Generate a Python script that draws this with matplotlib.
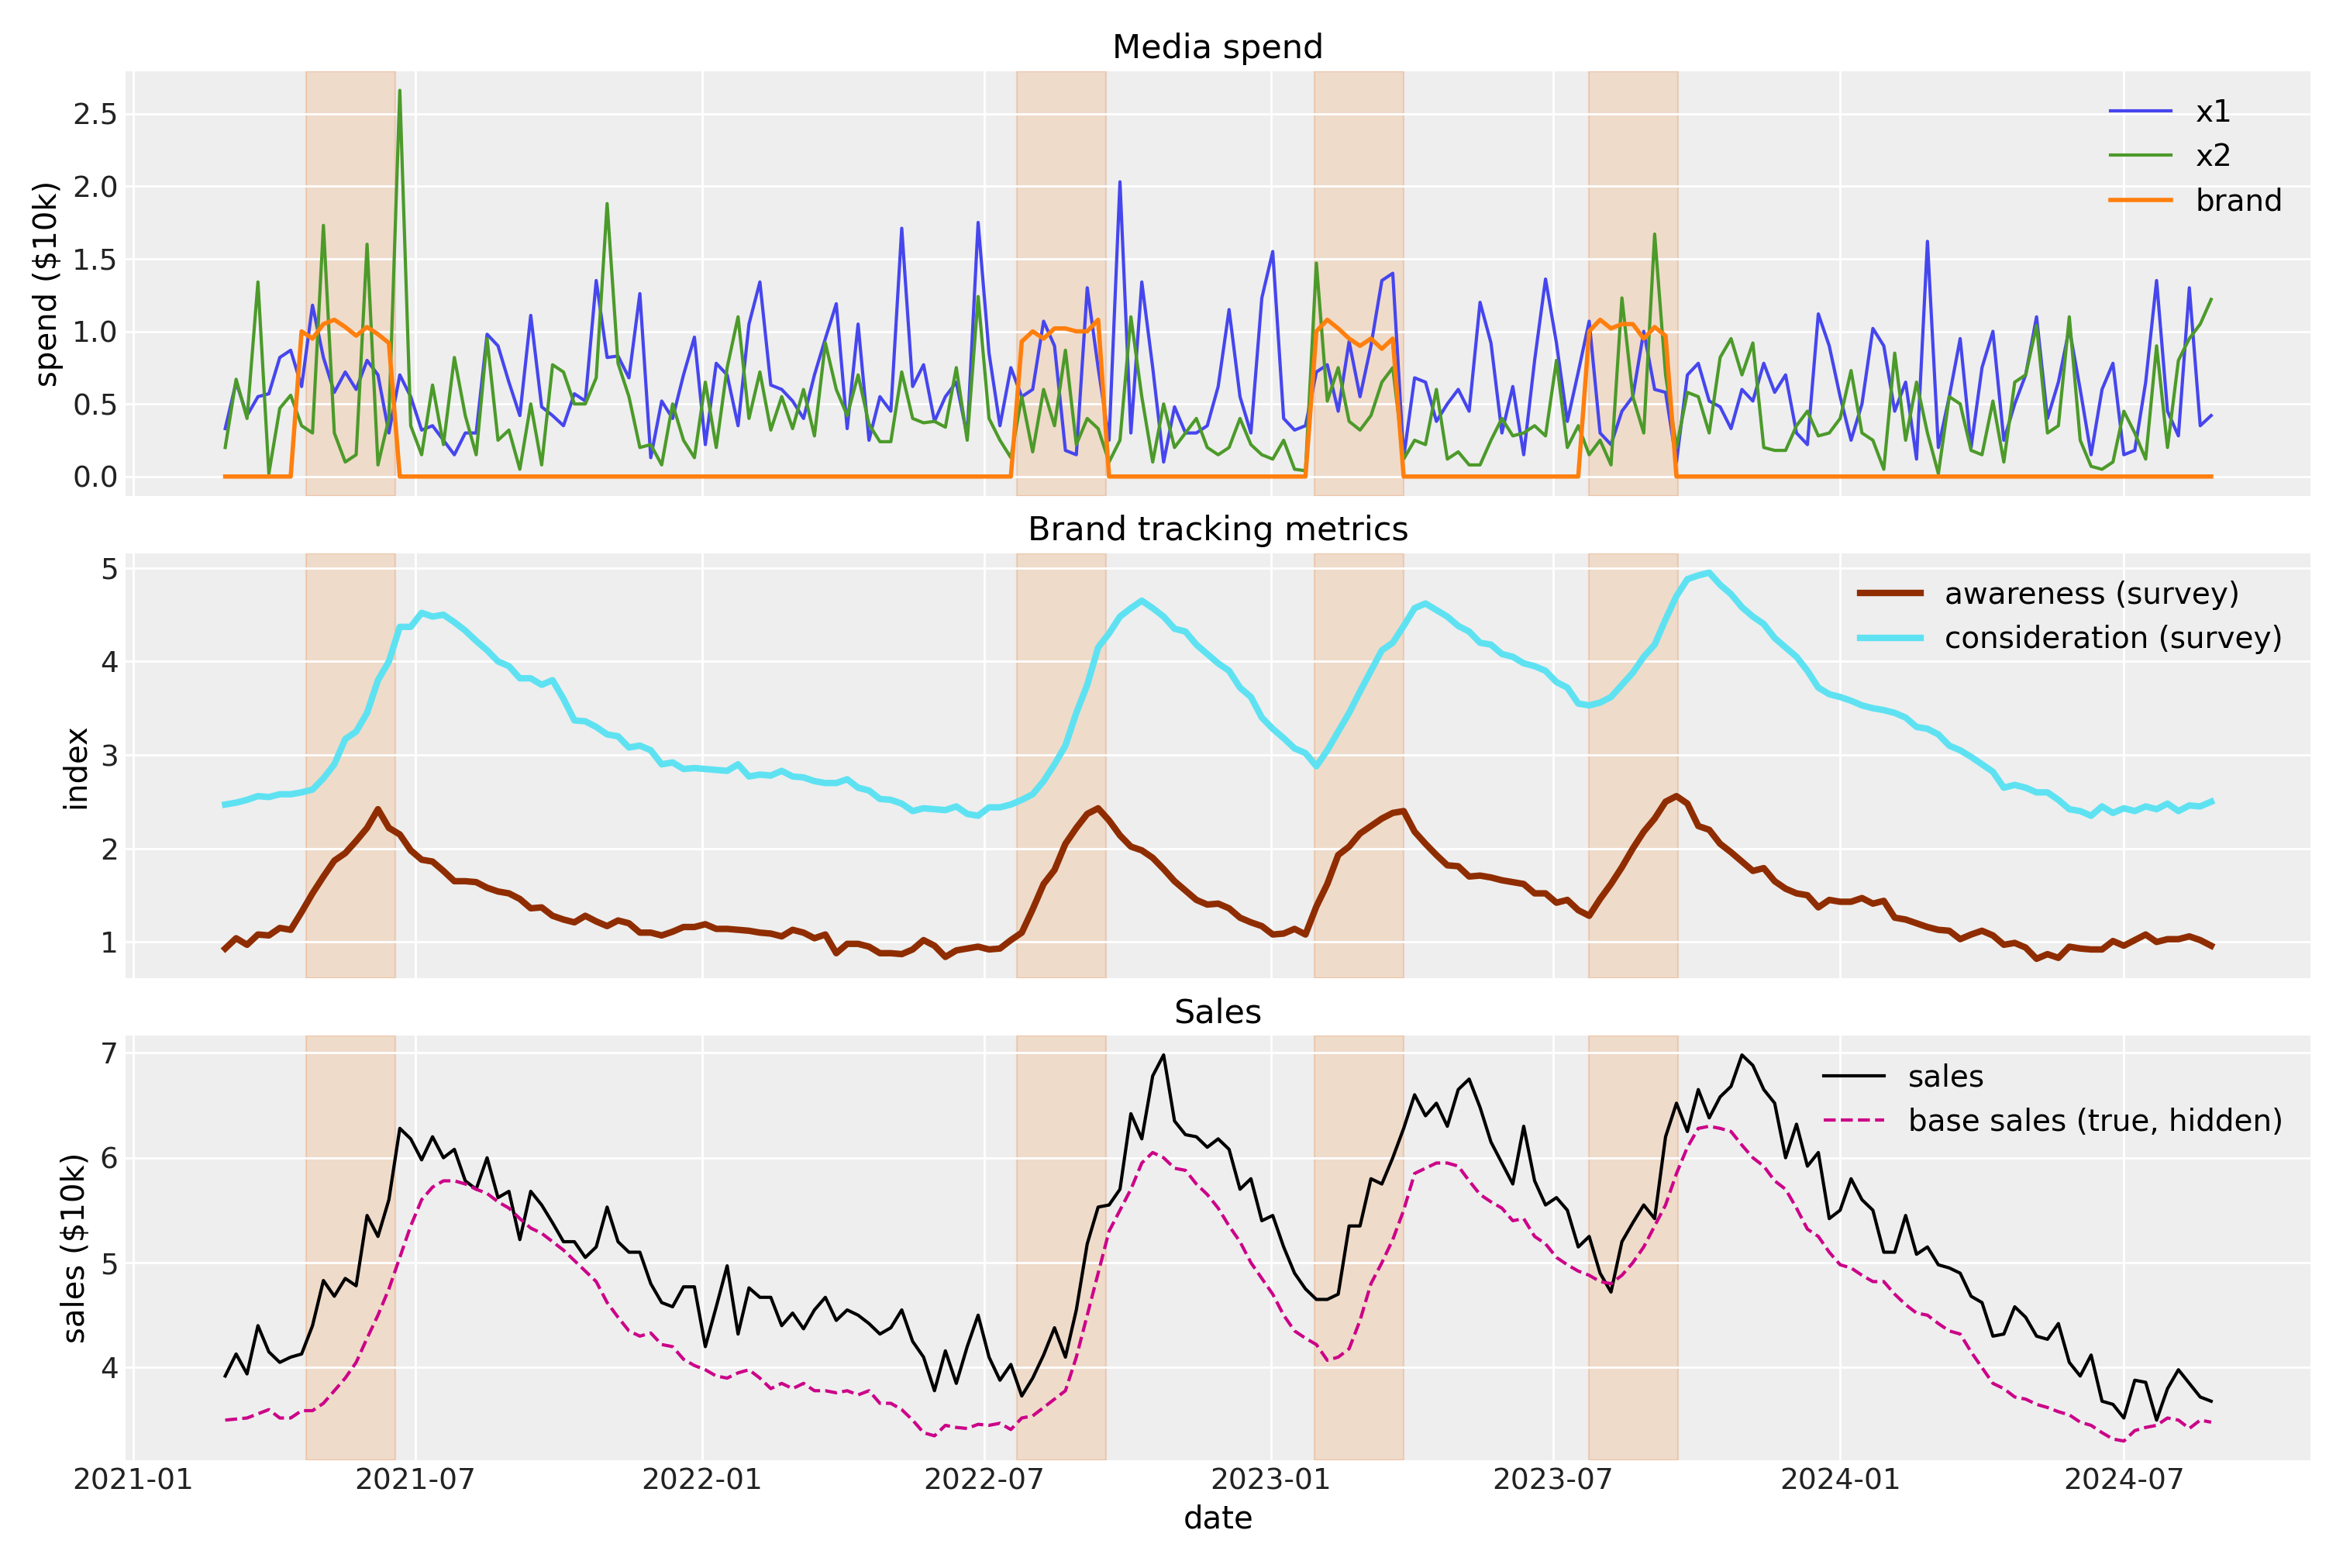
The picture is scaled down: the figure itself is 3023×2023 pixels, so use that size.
import matplotlib
matplotlib.use("Agg")
import matplotlib.pyplot as plt
import numpy as np
import pandas as pd

dates = pd.date_range("2021-03-01", periods=183, freq="7D")

x1 = [0.33,0.65,0.42,0.55,0.57,0.82,0.87,0.62,1.18,0.82,
      0.58,0.72,0.60,0.80,0.70,0.30,0.70,0.55,0.32,0.35,
      0.25,0.15,0.30,0.30,0.98,0.90,0.65,0.42,1.11,0.48,
      0.42,0.35,0.57,0.52,1.35,0.82,0.83,0.68,1.26,0.13,
      0.52,0.40,0.70,0.96,0.22,0.78,0.70,0.35,1.05,1.34,
      0.63,0.60,0.52,0.40,0.70,0.95,1.19,0.33,1.05,0.25,
      0.55,0.45,1.71,0.62,0.77,0.38,0.55,0.65,0.28,1.75,
      0.85,0.35,0.75,0.55,0.60,1.07,0.90,0.18,0.15,1.30,
      0.75,0.25,2.03,0.30,1.34,0.75,0.10,0.48,0.30,0.30,
      0.35,0.62,1.15,0.55,0.30,1.23,1.55,0.40,0.32,0.35,
      0.72,0.77,0.45,0.93,0.55,0.90,1.35,1.40,0.13,0.68,
      0.65,0.38,0.50,0.60,0.45,1.20,0.92,0.30,0.62,0.15,
      0.80,1.36,0.92,0.38,0.72,1.07,0.30,0.22,0.45,0.55,
      1.00,0.60,0.58,0.10,0.70,0.78,0.52,0.48,0.33,0.60,
      0.52,0.78,0.58,0.70,0.30,0.22,1.12,0.90,0.55,0.25,
      0.50,1.02,0.90,0.45,0.65,0.12,1.62,0.20,0.55,0.95,
      0.20,0.75,1.00,0.25,0.50,0.70,1.10,0.40,0.65,1.02,
      0.60,0.15,0.60,0.78,0.15,0.18,0.65,1.35,0.45,0.28,
      1.30,0.35,0.42]

x2 = [0.20,0.67,0.40,1.34,0.02,0.47,0.56,0.35,0.30,1.73,
      0.30,0.10,0.15,1.60,0.08,0.40,2.66,0.35,0.15,0.63,
      0.22,0.82,0.42,0.15,0.95,0.25,0.32,0.05,0.50,0.08,
      0.77,0.72,0.50,0.50,0.68,1.88,0.78,0.55,0.20,0.22,
      0.08,0.50,0.25,0.13,0.65,0.20,0.75,1.10,0.40,0.72,
      0.32,0.55,0.33,0.60,0.28,0.92,0.60,0.42,0.70,0.36,
      0.24,0.24,0.72,0.40,0.37,0.38,0.34,0.75,0.25,1.24,
      0.40,0.25,0.13,0.55,0.17,0.60,0.35,0.87,0.22,0.40,
      0.33,0.10,0.25,1.10,0.55,0.10,0.50,0.20,0.30,0.40,
      0.20,0.15,0.20,0.40,0.22,0.15,0.12,0.25,0.05,0.04,
      1.47,0.52,0.75,0.38,0.32,0.42,0.65,0.75,0.12,0.25,
      0.22,0.60,0.12,0.17,0.08,0.08,0.25,0.40,0.28,0.30,
      0.35,0.28,0.80,0.20,0.35,0.15,0.25,0.08,1.23,0.55,
      0.30,1.67,0.70,0.20,0.58,0.55,0.30,0.82,0.95,0.70,
      0.92,0.20,0.18,0.18,0.35,0.45,0.28,0.30,0.40,0.73,
      0.30,0.25,0.05,0.85,0.25,0.65,0.30,0.02,0.55,0.50,
      0.18,0.15,0.52,0.10,0.65,0.70,1.04,0.30,0.35,1.10,
      0.25,0.07,0.05,0.10,0.45,0.30,0.12,0.90,0.20,0.80,
      0.95,1.05,1.22]

# brand flights: (first week index, values)
flights = [(7, [1.00,0.95,1.05,1.08,1.03,0.97,1.03,0.98,0.92]),
           (73, [0.93,1.00,0.95,1.02,1.02,1.00,1.00,1.08]),
           (100, [1.00,1.08,1.02,0.95,0.90,0.95,0.88,0.95]),
           (125, [1.00,1.08,1.02,1.05,1.05,0.95,1.03,0.97])]
brand = [0.0] * 183
for start, vals in flights:
    for k, v in enumerate(vals):
        brand[start + k] = v

flight_spans = [("2021-04-22", "2021-06-18"), ("2022-07-22", "2022-09-17"),
                ("2023-01-29", "2023-03-27"), ("2023-07-24", "2023-09-19")]

consideration = [2.47,2.49,2.52,2.56,2.55,2.58,2.58,2.60,2.63,2.75,
                 2.90,3.17,3.25,3.45,3.80,4.00,4.37,4.37,4.52,4.48,
                 4.50,4.42,4.33,4.22,4.12,4.00,3.95,3.82,3.82,3.75,
                 3.80,3.60,3.37,3.36,3.30,3.22,3.20,3.08,3.10,3.05,
                 2.90,2.92,2.85,2.86,2.85,2.84,2.83,2.90,2.77,2.79,
                 2.78,2.83,2.77,2.76,2.72,2.70,2.70,2.74,2.65,2.62,
                 2.53,2.52,2.48,2.40,2.43,2.42,2.41,2.45,2.37,2.35,
                 2.44,2.44,2.47,2.52,2.58,2.72,2.90,3.10,3.45,3.75,
                 4.15,4.30,4.48,4.57,4.65,4.57,4.48,4.35,4.32,4.18,
                 4.08,3.98,3.90,3.72,3.62,3.40,3.28,3.18,3.07,3.02,
                 2.88,3.05,3.25,3.45,3.68,3.90,4.12,4.20,4.38,4.57,
                 4.62,4.55,4.48,4.38,4.32,4.20,4.18,4.08,4.05,3.98,
                 3.95,3.90,3.78,3.72,3.55,3.53,3.56,3.62,3.75,3.88,
                 4.05,4.18,4.45,4.70,4.88,4.92,4.95,4.82,4.72,4.58,
                 4.48,4.40,4.25,4.15,4.05,3.90,3.72,3.65,3.62,3.58,
                 3.53,3.50,3.48,3.45,3.40,3.30,3.28,3.22,3.10,3.05,
                 2.98,2.90,2.82,2.65,2.68,2.65,2.60,2.60,2.52,2.42,
                 2.40,2.35,2.45,2.38,2.43,2.40,2.45,2.42,2.48,2.40,
                 2.46,2.45,2.50]

awareness = [0.93,1.04,0.97,1.08,1.07,1.15,1.13,1.32,1.52,1.70,
             1.87,1.95,2.08,2.22,2.42,2.22,2.15,1.98,1.88,1.86,
             1.76,1.65,1.65,1.64,1.58,1.54,1.52,1.46,1.36,1.37,
             1.28,1.24,1.21,1.28,1.22,1.17,1.23,1.20,1.10,1.10,
             1.07,1.11,1.16,1.16,1.19,1.14,1.14,1.13,1.12,1.10,
             1.09,1.06,1.13,1.10,1.04,1.08,0.88,0.98,0.98,0.95,
             0.88,0.88,0.87,0.92,1.02,0.96,0.84,0.91,0.93,0.95,
             0.92,0.93,1.02,1.10,1.35,1.62,1.77,2.05,2.22,2.37,
             2.43,2.30,2.14,2.02,1.98,1.90,1.78,1.65,1.55,1.45,
             1.40,1.41,1.36,1.26,1.21,1.17,1.08,1.09,1.14,1.08,
             1.38,1.62,1.93,2.02,2.16,2.24,2.32,2.38,2.40,2.18,
             2.05,1.93,1.82,1.81,1.70,1.71,1.69,1.66,1.64,1.62,
             1.52,1.52,1.42,1.45,1.34,1.28,1.46,1.62,1.80,2.00,
             2.18,2.32,2.50,2.56,2.48,2.24,2.20,2.05,1.96,1.86,
             1.76,1.79,1.65,1.57,1.52,1.50,1.37,1.45,1.43,1.43,
             1.47,1.41,1.44,1.26,1.24,1.20,1.16,1.13,1.12,1.03,
             1.08,1.12,1.07,0.97,0.99,0.94,0.82,0.87,0.83,0.95,
             0.93,0.92,0.92,1.01,0.96,1.02,1.08,1.00,1.03,1.03,
             1.06,1.02,0.96]

base_sales = [3.50,3.51,3.52,3.56,3.60,3.52,3.52,3.59,3.59,3.66,
              3.78,3.90,4.05,4.28,4.50,4.75,5.05,5.35,5.60,5.72,
              5.78,5.78,5.75,5.70,5.66,5.58,5.52,5.42,5.33,5.28,
              5.20,5.12,5.02,4.92,4.82,4.62,4.48,4.35,4.30,4.33,
              4.22,4.20,4.08,4.02,3.98,3.92,3.90,3.95,3.98,3.90,
              3.80,3.85,3.80,3.85,3.78,3.78,3.76,3.78,3.74,3.78,
              3.66,3.66,3.60,3.50,3.38,3.35,3.45,3.43,3.42,3.46,
              3.45,3.47,3.41,3.52,3.54,3.62,3.70,3.78,4.10,4.50,
              4.90,5.30,5.50,5.70,5.95,6.05,6.00,5.90,5.88,5.75,
              5.65,5.52,5.35,5.20,5.00,4.85,4.70,4.50,4.35,4.28,
              4.22,4.07,4.10,4.18,4.45,4.80,5.00,5.22,5.50,5.85,
              5.90,5.95,5.95,5.92,5.78,5.65,5.58,5.52,5.40,5.42,
              5.25,5.18,5.05,4.98,4.92,4.88,4.82,4.80,4.88,5.00,
              5.15,5.35,5.55,5.85,6.10,6.28,6.30,6.28,6.25,6.12,
              6.00,5.92,5.78,5.70,5.52,5.32,5.25,5.10,4.98,4.95,
              4.88,4.82,4.82,4.70,4.60,4.52,4.50,4.42,4.35,4.32,
              4.15,4.00,3.85,3.80,3.72,3.70,3.65,3.62,3.58,3.55,
              3.48,3.45,3.38,3.32,3.30,3.40,3.43,3.45,3.52,3.50,
              3.42,3.50,3.48]

sales = [3.92,4.13,3.94,4.40,4.15,4.05,4.10,4.13,4.40,4.83,
         4.68,4.85,4.78,5.45,5.25,5.60,6.28,6.18,5.98,6.20,
         6.00,6.08,5.78,5.70,6.00,5.62,5.68,5.22,5.68,5.55,
         5.38,5.20,5.20,5.05,5.15,5.53,5.20,5.10,5.10,4.80,
         4.62,4.58,4.77,4.77,4.20,4.58,4.97,4.32,4.76,4.67,
         4.67,4.40,4.52,4.37,4.55,4.67,4.45,4.55,4.50,4.42,
         4.32,4.38,4.55,4.25,4.10,3.78,4.16,3.85,4.20,4.50,
         4.10,3.88,4.03,3.73,3.90,4.12,4.38,4.10,4.55,5.18,
         5.53,5.55,5.70,6.42,6.18,6.78,6.98,6.35,6.22,6.20,
         6.10,6.18,6.08,5.70,5.80,5.40,5.45,5.15,4.90,4.75,
         4.65,4.65,4.70,5.35,5.35,5.80,5.75,6.00,6.28,6.60,
         6.40,6.52,6.30,6.65,6.75,6.48,6.15,5.95,5.75,6.30,
         5.78,5.55,5.62,5.50,5.15,5.25,4.90,4.72,5.20,5.38,
         5.55,5.42,6.20,6.52,6.25,6.65,6.38,6.58,6.68,6.98,
         6.88,6.65,6.52,6.00,6.32,5.92,6.05,5.42,5.50,5.80,
         5.60,5.50,5.10,5.10,5.45,5.08,5.15,4.98,4.95,4.90,
         4.68,4.62,4.30,4.32,4.58,4.48,4.30,4.27,4.42,4.05,
         3.92,4.12,3.68,3.65,3.52,3.88,3.86,3.50,3.80,3.98,
         3.85,3.72,3.68]

plt.rcParams.update({
    "axes.facecolor": "#eeeeee", "axes.edgecolor": "none",
    "axes.grid": True, "grid.color": "white", "grid.linewidth": 1.0,
    "font.size": 14, "axes.titlesize": 15.5, "axes.labelsize": 14.5,
    "xtick.labelsize": 13.5, "ytick.labelsize": 13.5,
    "xtick.color": "#222222", "ytick.color": "#222222",
})

fig, axes = plt.subplots(3, 1, figsize=(15.115, 10.115), dpi=200, sharex=True)

ax = axes[0]
ax.plot(dates, x1, color="#4646ee", lw=1.5, label="x1")
ax.plot(dates, x2, color="#4c9a2a", lw=1.5, label="x2")
ax.plot(dates, brand, color="#ff7f0e", lw=2.0, label="brand")
ax.set_title("Media spend")
ax.set_ylabel("spend ($10k)")

ax = axes[1]
ax.plot(dates, awareness, color="#8f2d00", lw=3.0, label="awareness (survey)")
ax.plot(dates, consideration, color="#5ee2f2", lw=3.0, label="consideration (survey)")
ax.set_title("Brand tracking metrics")
ax.set_ylabel("index")

ax = axes[2]
ax.plot(dates, sales, color="black", lw=1.5, label="sales")
ax.plot(dates, base_sales, color="#cc0088", lw=1.5, ls="--", label="base sales (true, hidden)")
ax.set_title("Sales")
ax.set_ylabel("sales ($10k)")
ax.set_xlabel("date")

for ax in axes:
    for s, e in flight_spans:
        ax.axvspan(pd.Timestamp(s), pd.Timestamp(e), facecolor="#f4a460", alpha=0.25,
                   edgecolor="#e08040", lw=0.8)
    ax.legend(loc="upper right", frameon=False, fontsize=14)
    ax.tick_params(length=0)

plt.tight_layout(h_pad=0.6)
plt.savefig("out.png")
